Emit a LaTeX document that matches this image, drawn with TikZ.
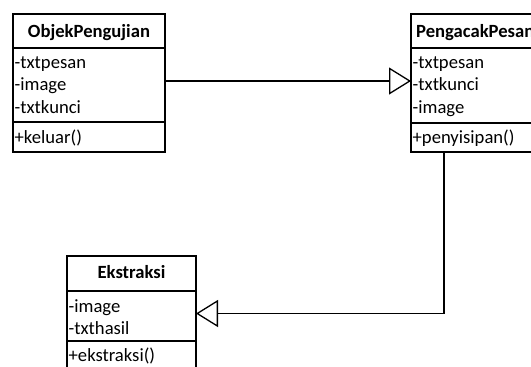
\documentclass[tikz,border=0pt]{standalone}
\usepackage{fontspec}
\setmainfont{Carlito}
\usetikzlibrary{arrows.meta,calc}
\begin{document}
\begin{tikzpicture}[x=1bp,y=-1bp,
  umlbox/.style={draw,line width=1.6bp,anchor=north west,inner sep=0pt,outer sep=0pt},
  txt/.style={anchor=base west,inner sep=0pt,font=\fontsize{18.7}{22}\selectfont},
  ttl/.style={anchor=base,inner sep=0pt,font=\fontsize{18.7}{22}\selectfont\bfseries},
  sepline/.style={line width=1.6bp},
  gen/.style={line width=1.3bp,-{Triangle[open,length=22bp,width=27bp,fill=white,line width=1.3bp]}}]
\useasboundingbox (0,0) rectangle (531,366);
\clip (0,0) rectangle (531,366);
% ObjekPengujian
\node[umlbox,minimum width=152bp,minimum height=138bp] (op) at (13,14) {};
\draw[sepline] ($(op.north west)+(0,34)$) -- ($(op.north east)+(0,34)$);
\draw[sepline] ($(op.north west)+(0,108)$) -- ($(op.north east)+(0,108)$);
\node[ttl] (opt) at (89,37) {ObjekPengujian};
\node[txt] (opa1) at (14.5,68) {-txtpesan};
\node[txt] (opa2) at (14.5,90.5) {-image};
\node[txt] (opa3) at (14.5,113) {-txtkunci};
\node[txt] (opm1) at (14.5,143) {+keluar()};
% PengacakPesan
\node[umlbox,minimum width=132bp,minimum height=138bp] (pp) at (411,14) {};
\draw[sepline] ($(pp.north west)+(0,34)$) -- ($(pp.north east)+(0,34)$);
\draw[sepline] ($(pp.north west)+(0,109)$) -- ($(pp.north east)+(0,109)$);
\node[ttl,anchor=base west] (ppt) at (416,37) {PengacakPesan};
\node[txt] (ppa1) at (412.5,68) {-txtpesan};
\node[txt] (ppa2) at (412.5,90.5) {-txtkunci};
\node[txt] (ppa3) at (412.5,113) {-image};
\node[txt] (ppm1) at (412.5,143) {+penyisipan()};
% Ekstraksi
\node[umlbox,minimum width=129bp,minimum height=115bp] (ek) at (67,256) {};
\draw[sepline] ($(ek.north west)+(0,35)$) -- ($(ek.north east)+(0,35)$);
\draw[sepline] ($(ek.north west)+(0,85)$) -- ($(ek.north east)+(0,85)$);
\node[ttl] (ekt) at (131.5,278) {Ekstraksi};
\node[txt] (eka1) at (68.5,312) {-image};
\node[txt] (eka2) at (68.5,334) {-txthasil};
\node[txt] (ekm1) at (68.5,361) {+ekstraksi()};
% connectors
\draw[gen] ([yshift=2bp]op.east) -- ([yshift=2bp]pp.west);
\coordinate (ppbot) at ($(pp.south west)+(33,0)$);
\draw[gen] (ppbot) |- (ek.east);
\end{tikzpicture}
\end{document}
